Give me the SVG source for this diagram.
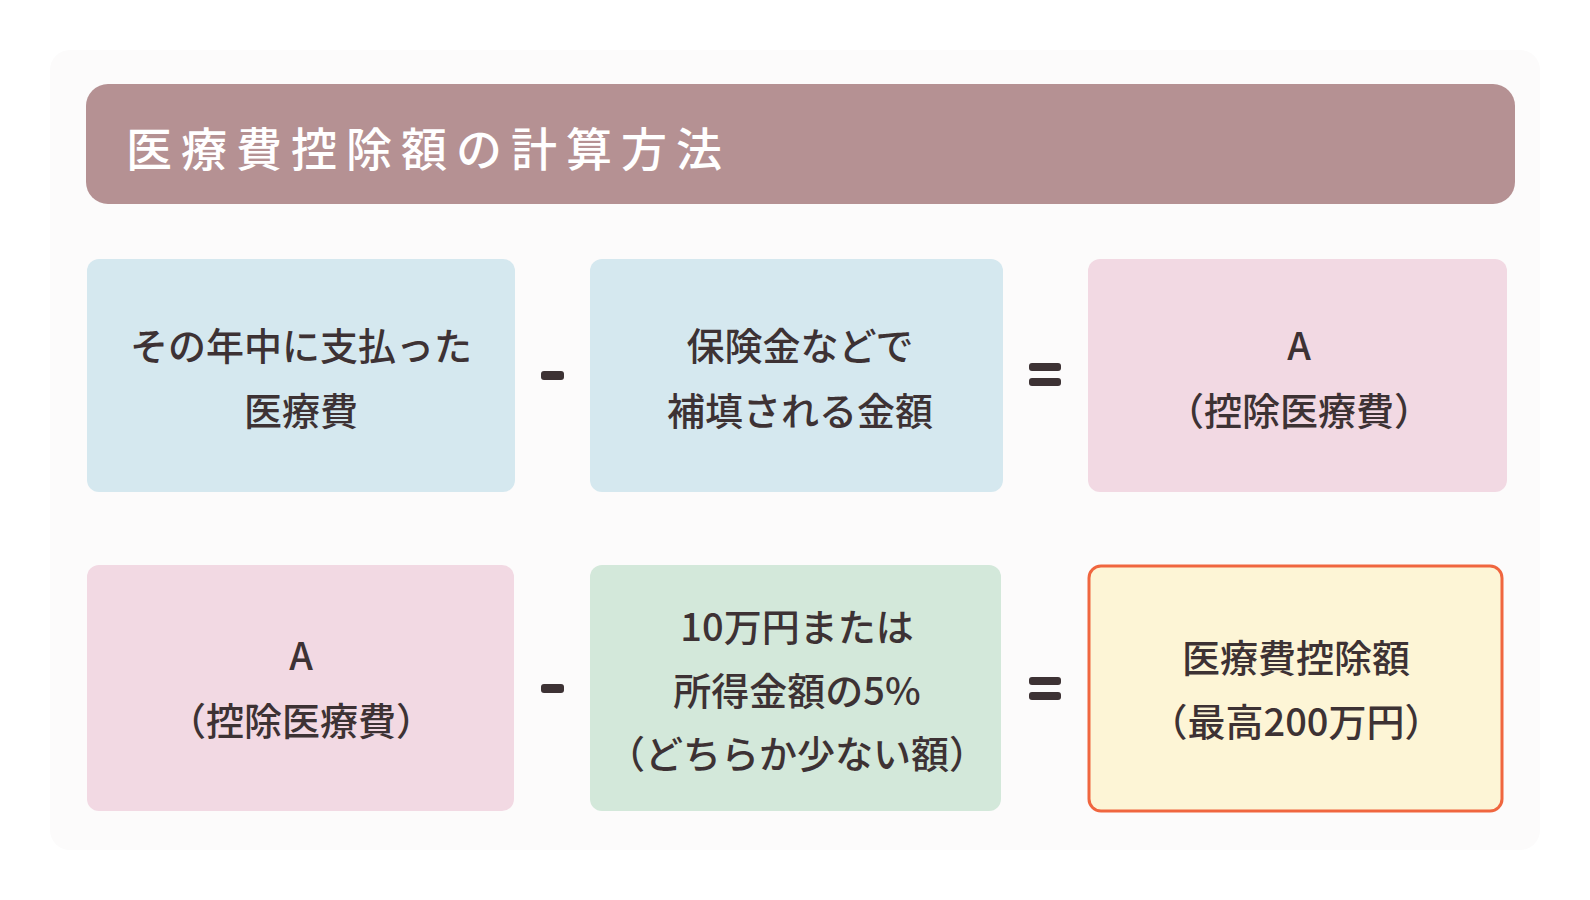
<svg xmlns="http://www.w3.org/2000/svg" width="1590" height="900" viewBox="0 0 1590 900">
<style>
.t{font-family:"Noto Sans CJK JP","Noto Sans",sans-serif;font-size:38px;fill:#3d3234;text-anchor:middle;dominant-baseline:central;font-weight:500}
.title{font-family:"Noto Sans CJK JP","Noto Sans",sans-serif;font-size:46px;fill:#ffffff;font-weight:500;letter-spacing:9px;dominant-baseline:central}
.op{fill:#3d3234}
.blue{fill:#d5e8ef}
.pink{fill:#f2d9e3}
.green{fill:#d3e8da}
.yellow{fill:#fdf5d6;stroke:#f0663f;stroke-width:3}
</style>
<rect x="0" y="0" width="1590" height="900" fill="#ffffff"/>
<rect x="50" y="50" width="1490" height="800" rx="20" fill="#fcfbfb"/>
<g id="title">
<rect x="86" y="84" width="1429" height="120" rx="22" fill="#b59193"/>
<text class="title" x="126" y="146">医療費控除額の計算方法</text>
</g>
<g id="box1">
<rect class="blue" x="87" y="259" width="428" height="233" rx="12"/>
<text class="t" x="301" y="343">その年中に支払った</text>
<text class="t" x="301" y="408">医療費</text>
</g>
<g id="box2">
<rect class="blue" x="590" y="259" width="413" height="233" rx="12"/>
<text class="t" x="800" y="343">保険金などで</text>
<text class="t" x="800" y="408">補填される金額</text>
</g>
<g id="box3">
<rect class="pink" x="1088" y="259" width="419" height="233" rx="12"/>
<text class="t" x="1299" y="343">A</text>
<text class="t" x="1299" y="408">（控除医療費）</text>
</g>
<g id="box4">
<rect class="pink" x="87" y="565" width="427" height="246" rx="12"/>
<text class="t" x="301" y="653">A</text>
<text class="t" x="301" y="718">（控除医療費）</text>
</g>
<g id="box5">
<rect class="green" x="590" y="565" width="411" height="246" rx="12"/>
<text class="t" x="797" y="624">10万円または</text>
<text class="t" x="797" y="688">所得金額の5%</text>
<text class="t" x="797" y="751">（どちらか少ない額）</text>
</g>
<g id="box6">
<rect class="yellow" x="1089" y="566" width="413" height="245" rx="12"/>
<text class="t" x="1296" y="655">医療費控除額</text>
<text class="t" x="1296" y="719">（最高200万円）</text>
</g>
<g id="connectors">
<rect class="op" x="541" y="371" width="23" height="9" rx="3"/>
<rect class="op" x="1029" y="363" width="32" height="8" rx="3"/>
<rect class="op" x="1029" y="378" width="32" height="8" rx="3"/>
<rect class="op" x="541" y="684" width="23" height="9" rx="3"/>
<rect class="op" x="1029" y="677" width="32" height="8" rx="3"/>
<rect class="op" x="1029" y="692" width="32" height="8" rx="3"/>
</g>
</svg>
